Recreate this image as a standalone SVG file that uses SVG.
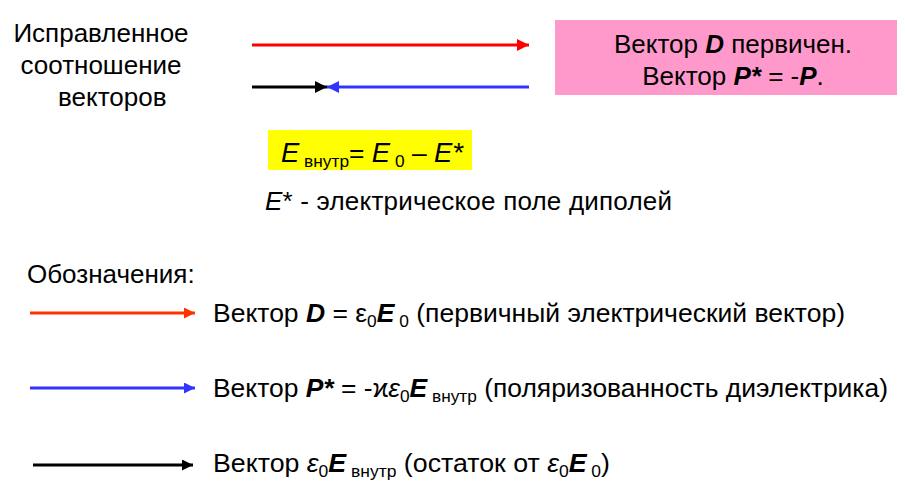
<svg xmlns="http://www.w3.org/2000/svg" width="905" height="495" viewBox="0 0 905 495">
<style>
text{font-family:"Liberation Sans",Arial,sans-serif;font-size:26px;fill:#000}
.b{font-weight:bold;font-style:italic}
.i{font-style:italic}
.s{font-size:17px}
.ln{stroke-width:3;fill:none}
</style>
<defs>
<marker id="aK" markerWidth="11" markerHeight="11" refX="11" refY="5.5" orient="auto" markerUnits="userSpaceOnUse" viewBox="0 0 11 11"><path d="M0,0L11,5.5L0,11z" fill="#000"/></marker>
<marker id="aB" markerWidth="11" markerHeight="11" refX="11" refY="5.5" orient="auto" markerUnits="userSpaceOnUse" viewBox="0 0 11 11"><path d="M0,0L11,5.5L0,11z" fill="#3333FF"/></marker>
<marker id="aR2" markerWidth="11" markerHeight="11" refX="11" refY="5.5" orient="auto" markerUnits="userSpaceOnUse" viewBox="0 0 11 11"><path d="M0,0L11,5.5L0,11z" fill="#FF3300"/></marker>
<marker id="aRt" markerWidth="12" markerHeight="12" refX="12" refY="6" orient="auto" markerUnits="userSpaceOnUse" viewBox="0 0 12 12"><path d="M0,0L12,6L0,12z" fill="#FF0000"/></marker>
<marker id="aKt" markerWidth="12" markerHeight="12" refX="12" refY="6" orient="auto" markerUnits="userSpaceOnUse" viewBox="0 0 12 12"><path d="M0,0L12,6L0,12z" fill="#000"/></marker>
<marker id="aBt" markerWidth="12" markerHeight="12" refX="12" refY="6" orient="auto" markerUnits="userSpaceOnUse" viewBox="0 0 12 12"><path d="M0,0L12,6L0,12z" fill="#3333FF"/></marker>
</defs>

<g id="title">
<text x="101" y="42" text-anchor="middle">Исправленное</text>
<text x="101" y="74" text-anchor="middle">соотношение</text>
<text x="58" y="106">векторов</text>
</g>

<g id="connectors">
<line class="ln" x1="252" y1="45" x2="529" y2="45" stroke="#FF0000" marker-end="url(#aRt)"/>
<line class="ln" x1="252" y1="87" x2="327" y2="87" stroke="#000" marker-end="url(#aKt)"/>
<line class="ln" x1="529" y1="87" x2="327" y2="87" stroke="#3333FF" marker-end="url(#aBt)"/>
<line class="ln" x1="30" y1="313" x2="195" y2="313" stroke="#FF3300" marker-end="url(#aR2)"/>
<line class="ln" x1="30" y1="388" x2="195" y2="388" stroke="#3333FF" marker-end="url(#aB)"/>
<line class="ln" x1="33" y1="465" x2="193" y2="465" stroke="#000" marker-end="url(#aK)"/>
</g>

<g id="pink">
<rect x="555" y="20" width="342" height="75" fill="#FF99CC"/>
<text x="733" y="53" text-anchor="middle">Вектор  <tspan class="b">D</tspan> первичен.</text>
<text x="733" y="85" text-anchor="middle">Вектор  <tspan class="b">P*</tspan> = -<tspan class="b">P</tspan>.</text>
</g>

<g id="formula">
<rect x="268" y="130" width="204" height="40" fill="#FFFF00"/>
<text x="281" y="162" textLength="182" lengthAdjust="spacingAndGlyphs"><tspan class="i" style="font-size:27px">E</tspan><tspan class="s" dy="5"> внутр</tspan><tspan dy="-5">= </tspan><tspan class="i" style="font-size:27px">E</tspan><tspan class="s" dy="5"> 0</tspan><tspan dy="-5"> – </tspan><tspan class="i" style="font-size:27px">E*</tspan></text>
</g>

<g id="note">
<text x="265" y="210" textLength="407" lengthAdjust="spacing"><tspan class="i">E</tspan>* - электрическое  поле диполей</text>
</g>

<g id="legend">
<text x="27" y="283">Обозначения:</text>
<text x="213" y="322" textLength="632" lengthAdjust="spacingAndGlyphs">Вектор <tspan class="b">D</tspan> = ε<tspan class="s" dy="5">0</tspan><tspan class="b" dy="-5">E</tspan><tspan class="s" dy="5"> 0</tspan><tspan dy="-5"> (первичный  электрический  вектор)</tspan></text>
<text x="213" y="397" textLength="675" lengthAdjust="spacingAndGlyphs">Вектор <tspan class="b">P*</tspan> = -ϰ<tspan class="i">ε</tspan><tspan class="s" dy="5">0</tspan><tspan class="b" dy="-5">E</tspan><tspan class="s" dy="5"> внутр</tspan><tspan dy="-5"> (поляризованность  диэлектрика)</tspan></text>
<text x="213" y="472" textLength="397" lengthAdjust="spacingAndGlyphs">Вектор <tspan class="i">ε</tspan><tspan class="s" dy="5">0</tspan><tspan class="b" dy="-5">E</tspan><tspan class="s" dy="5"> внутр</tspan><tspan dy="-5"> (остаток от </tspan><tspan class="i">ε</tspan><tspan class="s" dy="5">0</tspan><tspan class="b" dy="-5">E</tspan><tspan class="s" dy="5"> 0</tspan><tspan dy="-5">)</tspan></text>
</g>
</svg>
